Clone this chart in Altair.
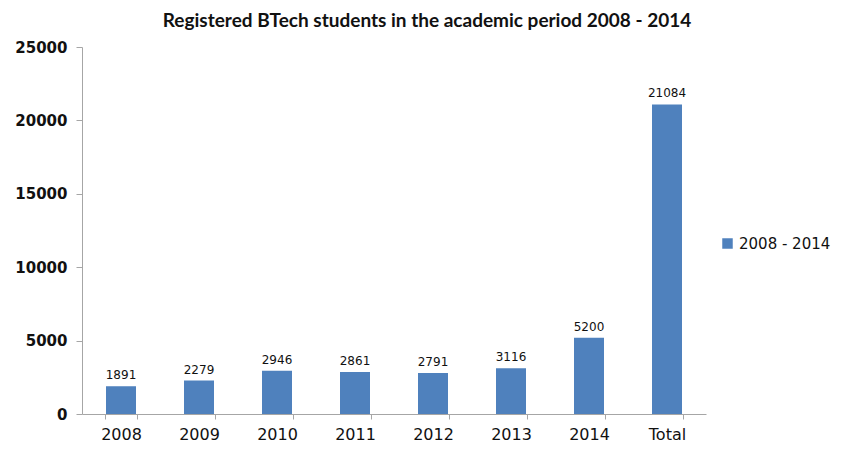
import altair as alt
import pandas as pd

categories = ["2008", "2009", "2010", "2011", "2012", "2013", "2014", "Total"]
values = [1891, 2279, 2946, 2861, 2791, 3116, 5200, 21084]
series = ["2008 - 2014"] * len(categories)

df = pd.DataFrame({"year": categories, "students": values, "series": series})

base = alt.Chart(df).encode(
    x=alt.X("year:N", sort=categories, title=None,
            scale=alt.Scale(paddingInner=0.6, paddingOuter=0.3),
            axis=alt.Axis(labelAngle=0, labelFont="DejaVu Sans", labelFontSize=16,
                          labelColor="#111111", labelPadding=7, tickBand="extent",
                          tickSize=5, tickColor="#A6A6A6", domainColor="#A6A6A6")),
    y=alt.Y("students:Q", title=None,
            scale=alt.Scale(domain=[0, 25000], nice=False),
            axis=alt.Axis(values=[0, 5000, 10000, 15000, 20000, 25000], format="d",
                          grid=False, labelFont="DejaVu Sans", labelFontSize=15,
                          labelFontWeight=600, labelColor="#111111", labelPadding=9,
                          tickSize=6, tickColor="#A6A6A6", domainColor="#A6A6A6")),
)

bars = base.mark_bar(size=30).encode(
    color=alt.Color("series:N", scale=alt.Scale(range=["#4F81BD"]),
                    legend=alt.Legend(title=None, orient="none", legendX=638, legendY=189,
                                      symbolType="square", symbolSize=110,
                                      labelFont="DejaVu Sans", labelFontSize=15,
                                      labelColor="#111111", symbolStrokeWidth=0))
)

labels = base.mark_text(dy=-11, font="DejaVu Sans", fontSize=12, color="#111111").encode(
    text=alt.Text("students:Q", format="d")
)

chart = (bars + labels).properties(
    width=624, height=367,
    background="white",
    autosize=alt.AutoSizeParams(type="none"),
    padding={"left": 74, "top": 39, "right": 131, "bottom": 28},
    title=alt.TitleParams("Registered BTech students in the academic period 2008 - 2014",
                          font="Lato", fontSize=19, fontWeight="bold", color="#111111",
                          anchor="middle", dx=33, offset=9),
).configure_view(strokeWidth=0, stroke="transparent")

chart.save("out.html", embed_options={"renderer": "svg", "actions": False})
